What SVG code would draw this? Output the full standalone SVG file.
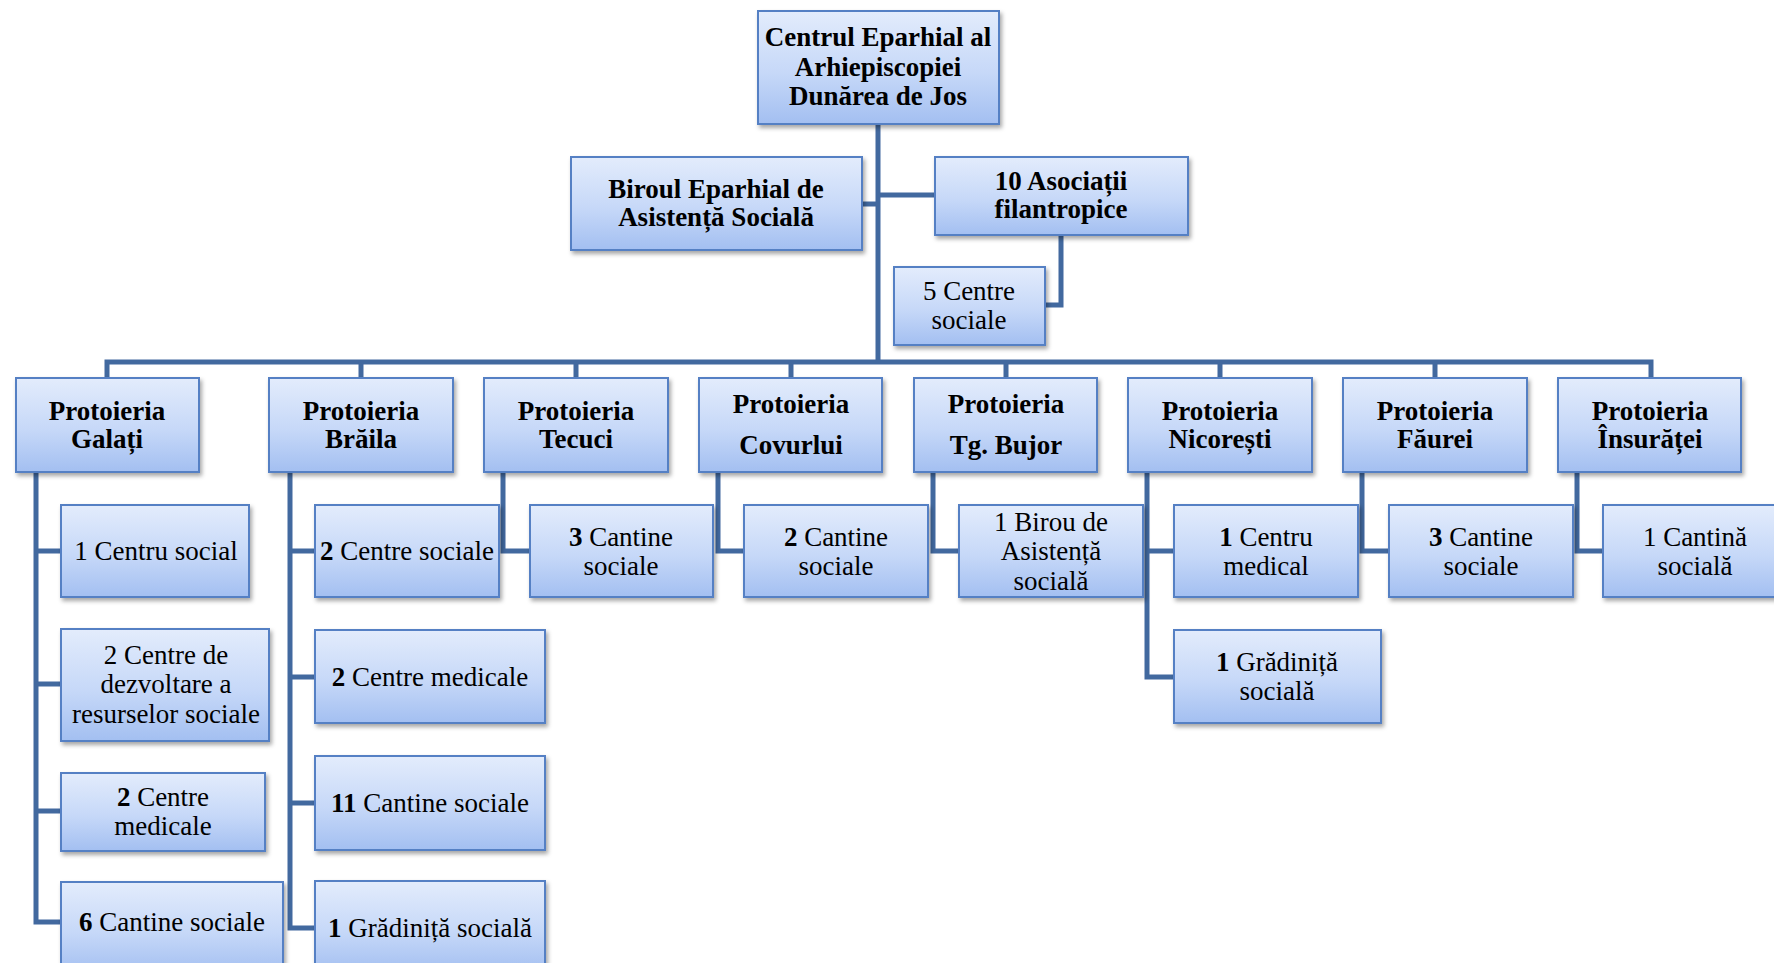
<svg xmlns="http://www.w3.org/2000/svg" width="1774" height="963" viewBox="0 0 1774 963">
<defs>
<linearGradient id="g" x1="0" y1="0" x2="0" y2="1">
<stop offset="0" stop-color="#e3ecfc"/>
<stop offset="0.55" stop-color="#c6d8f8"/>
<stop offset="1" stop-color="#a3bff1"/>
</linearGradient>
<filter id="sh" x="-10%" y="-10%" width="125%" height="130%">
<feDropShadow dx="2" dy="3" stdDeviation="2" flood-color="#000" flood-opacity="0.35"/>
</filter>
</defs>
<style>
.box{fill:url(#g);stroke:#5480c4;stroke-width:2;filter:url(#sh)}
text{font-family:"Liberation Serif","Times New Roman",serif;font-size:27px;fill:#000;text-anchor:middle}
.b{font-weight:bold}
.c{fill:none;stroke:#42699f;stroke-width:5;stroke-linejoin:miter}
</style>
<rect width="1774" height="963" fill="#fff"/>
<g id="connectors">
<path class="c" d="M878 124V362"/>
<path class="c" d="M862 204H878"/>
<path class="c" d="M878 195H935"/>
<path class="c" d="M1061 235V305H1045"/>
<path class="c" d="M107 378V362H1651V378"/>
<path class="c" d="M361 362V378M576 362V378M791 362V378M1006 362V378M1220 362V378M1435 362V378"/>
<path class="c" d="M36 472V922H61M36 551H61M36 684H61M36 811H61"/>
<path class="c" d="M290 472V928H315M290 551H315M290 677H315M290 803H315"/>
<path class="c" d="M503 472V551H530"/>
<path class="c" d="M718 472V551H744"/>
<path class="c" d="M933 472V551H959"/>
<path class="c" d="M1147 472V677H1174M1147 551H1174"/>
<path class="c" d="M1362 472V551H1389"/>
<path class="c" d="M1577 472V551H1603"/>
</g>
<g id="n-centrul"><rect class="box" x="758" y="11" width="241" height="113"/><text class="b" x="878" y="46">Centrul Eparhial al</text><text class="b" x="878" y="76">Arhiepiscopiei</text><text class="b" x="878" y="105">Dunărea de Jos</text></g>
<g id="n-biroul"><rect class="box" x="571" y="157" width="291" height="93"/><text class="b" x="716" y="198">Biroul Eparhial de</text><text class="b" x="716" y="226">Asistență Socială</text></g>
<g id="n-asociatii"><rect class="box" x="935" y="157" width="253" height="78"/><text class="b" x="1061" y="190">10 Asociații</text><text class="b" x="1061" y="218">filantropice</text></g>
<g id="n-5centre"><rect class="box" x="894" y="267" width="151" height="78"/><text x="969" y="300">5 Centre</text><text x="969" y="329">sociale</text></g>
<g id="n-galati"><rect class="box" x="16" y="378" width="183" height="94"/><text class="b" x="107" y="420">Protoieria</text><text class="b" x="107" y="448">Galați</text></g>
<g id="n-braila"><rect class="box" x="269" y="378" width="184" height="94"/><text class="b" x="361" y="420">Protoieria</text><text class="b" x="361" y="448">Brăila</text></g>
<g id="n-tecuci"><rect class="box" x="484" y="378" width="184" height="94"/><text class="b" x="576" y="420">Protoieria</text><text class="b" x="576" y="448">Tecuci</text></g>
<g id="n-covurlui"><rect class="box" x="699" y="378" width="183" height="94"/><text class="b" x="791" y="413">Protoieria</text><text class="b" x="791" y="454">Covurlui</text></g>
<g id="n-bujor"><rect class="box" x="914" y="378" width="183" height="94"/><text class="b" x="1006" y="413">Protoieria</text><text class="b" x="1006" y="454">Tg. Bujor</text></g>
<g id="n-nicoresti"><rect class="box" x="1128" y="378" width="184" height="94"/><text class="b" x="1220" y="420">Protoieria</text><text class="b" x="1220" y="448">Nicorești</text></g>
<g id="n-faurei"><rect class="box" x="1343" y="378" width="184" height="94"/><text class="b" x="1435" y="420">Protoieria</text><text class="b" x="1435" y="448">Făurei</text></g>
<g id="n-insuratei"><rect class="box" x="1558" y="378" width="183" height="94"/><text class="b" x="1650" y="420">Protoieria</text><text class="b" x="1650" y="448">Însurăței</text></g>
<g id="n-g1"><rect class="box" x="61" y="505" width="188" height="92"/><text x="156" y="560">1 Centru social</text></g>
<g id="n-g2"><rect class="box" x="61" y="629" width="208" height="112"/><text x="166" y="664">2 Centre de</text><text x="166" y="693">dezvoltare a</text><text x="166" y="723">resurselor sociale</text></g>
<g id="n-g3"><rect class="box" x="61" y="773" width="204" height="78"/><text x="163" y="806"><tspan class="b">2</tspan> Centre</text><text x="163" y="835">medicale</text></g>
<g id="n-g4"><rect class="box" x="61" y="882" width="222" height="92"/><text x="172" y="931"><tspan class="b">6</tspan> Cantine sociale</text></g>
<g id="n-b1"><rect class="box" x="315" y="505" width="184" height="92"/><text x="407" y="560"><tspan class="b">2</tspan> Centre sociale</text></g>
<g id="n-b2"><rect class="box" x="315" y="630" width="230" height="93"/><text x="430" y="686"><tspan class="b">2</tspan> Centre medicale</text></g>
<g id="n-b3"><rect class="box" x="315" y="756" width="230" height="94"/><text x="430" y="812"><tspan class="b">11</tspan> Cantine sociale</text></g>
<g id="n-b4"><rect class="box" x="315" y="881" width="230" height="92"/><text x="430" y="937"><tspan class="b">1</tspan> Grădiniță socială</text></g>
<g id="n-t1"><rect class="box" x="530" y="505" width="183" height="92"/><text x="621" y="546"><tspan class="b">3</tspan> Cantine</text><text x="621" y="575">sociale</text></g>
<g id="n-c1"><rect class="box" x="744" y="505" width="184" height="92"/><text x="836" y="546"><tspan class="b">2</tspan> Cantine</text><text x="836" y="575">sociale</text></g>
<g id="n-tb1"><rect class="box" x="959" y="505" width="184" height="92"/><text x="1051" y="531">1 Birou de</text><text x="1051" y="560">Asistență</text><text x="1051" y="590">socială</text></g>
<g id="n-n1"><rect class="box" x="1174" y="505" width="184" height="92"/><text x="1266" y="546"><tspan class="b">1</tspan> Centru</text><text x="1266" y="575">medical</text></g>
<g id="n-n2"><rect class="box" x="1174" y="630" width="207" height="93"/><text x="1277" y="671"><tspan class="b">1</tspan> Grădiniță</text><text x="1277" y="700">socială</text></g>
<g id="n-f1"><rect class="box" x="1389" y="505" width="184" height="92"/><text x="1481" y="546"><tspan class="b">3</tspan> Cantine</text><text x="1481" y="575">sociale</text></g>
<g id="n-i1"><rect class="box" x="1603" y="505" width="184" height="92"/><text x="1695" y="546">1 Cantină</text><text x="1695" y="575">socială</text></g>
</svg>
